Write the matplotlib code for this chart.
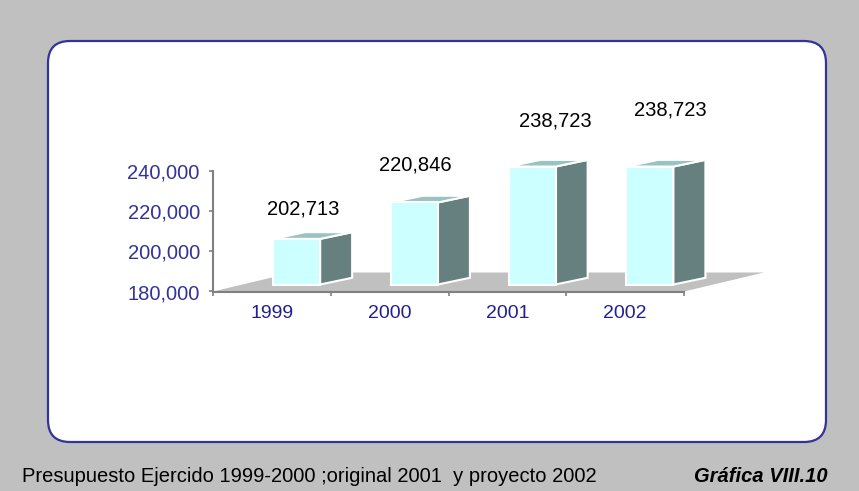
import matplotlib
matplotlib.use("Agg")
import matplotlib.pyplot as plt
from matplotlib.patches import FancyBboxPatch, Polygon
from matplotlib import font_manager

# data
years = ["1999", "2000", "2001", "2002"]
budget = [202713, 220846, 238723, 238723]
y_ticks = [180000, 200000, 220000, 240000]
footer = "Presupuesto Ejercido 1999-2000 ;original 2001  y proyecto 2002"
chart_id = "Gráfica VIII.10"

# figure geometry (pixels)
W, H, DPI = 859, 491, 100
L, R, T, B = 213, 684, 171, 291.5

BG = "#C0C0C0"
NAVY = "#333399"
AXIS = "#808080"
FRONT, SIDE, TOP = "#CCFFFF", "#668080", "#99C2C2"

names = {f.name for f in font_manager.fontManager.ttflist}
narrow = "Liberation Sans Narrow" if "Liberation Sans Narrow" in names else "Liberation Sans"
plt.rcParams["font.family"] = ["Liberation Sans", "DejaVu Sans"]

fig = plt.figure(figsize=(W / DPI, H / DPI), dpi=DPI, facecolor=BG)

# background layer in pixel coordinates
bg = fig.add_axes([0, 0, 1, 1])
bg.set_xlim(0, W)
bg.set_ylim(H, 0)
bg.axis("off")
bg.add_patch(FancyBboxPatch((48, 41), 778, 401,
                            boxstyle="round,pad=0,rounding_size=22",
                            fc="white", ec=NAVY, lw=1.6))
bg.text(22, 476, footer, fontsize=14.5, family=[narrow, "DejaVu Sans"],
        ha="left", va="center", color="black")
bg.text(828, 476, chart_id, fontsize=14.5, family=[narrow, "DejaVu Sans"],
        weight="bold", style="italic", ha="right", va="center", color="black")

# chart area
ax = fig.add_axes([L / W, 1 - B / H, (R - L) / W, (B - T) / H])
ax.set_xlim(0, len(years))
ax.set_ylim(y_ticks[0], y_ticks[-1])
ax.patch.set_visible(False)

px = len(years) / (R - L)                 # data units per pixel, x
py = (y_ticks[-1] - y_ticks[0]) / (B - T)  # data units per pixel, y
y0 = y_ticks[0]

# floor
fdx, fdy = 80 * px, 19 * py
ax.add_patch(Polygon([(0, y0), (len(years), y0), (len(years) + fdx, y0 + fdy),
                      (fdx, y0 + fdy)], closed=True, fc=BG, ec="none",
                     zorder=1, clip_on=False))

# 3d bars
lift = 7 * py
bdx, bdy = 32 * px, 6.7 * py
label_dx = [7, 1, 23, 20]
label_dy = [30, 37, 46, 57]
for i, (v, yr) in enumerate(zip(budget, years)):
    x0, x1 = i + 0.51, i + 0.91
    base, top = y0 + lift, v + lift
    front = [(x0, base), (x1, base), (x1, top), (x0, top)]
    side = [(x1, base), (x1 + bdx, base + bdy), (x1 + bdx, top + bdy), (x1, top)]
    lid = [(x0, top), (x1, top), (x1 + bdx, top + bdy), (x0 + bdx, top + bdy)]
    for pts, c in ((side, SIDE), (lid, TOP), (front, FRONT)):
        ax.add_patch(Polygon(pts, closed=True, fc=c, ec="white", lw=1.5,
                             joinstyle="miter", zorder=3, clip_on=False))
    ax.annotate(f"{v:,}", xy=((x0 + x1) / 2, top),
                xytext=(label_dx[i], label_dy[i]), textcoords="offset pixels",
                ha="center", va="center", fontsize=14.5, color="black",
                annotation_clip=False)

# axes styling
for s in ("top", "right"):
    ax.spines[s].set_visible(False)
for s in ("left", "bottom"):
    ax.spines[s].set_color(AXIS)
    ax.spines[s].set_linewidth(1.5)
    ax.spines[s].set_zorder(4)

ax.set_yticks(y_ticks)
ax.set_yticklabels([f"{t:,}" for t in y_ticks])
ax.tick_params(axis="y", direction="out", length=3, width=1.2, color=AXIS,
               labelcolor=NAVY, labelsize=14.5, pad=6.5)

ax.set_xticks(range(len(years) + 1))
ax.set_xticklabels([])
ax.set_xticks([i + 0.5 for i in range(len(years))], minor=True)
ax.set_xticklabels(years, minor=True)
ax.tick_params(axis="x", which="major", direction="out", length=3, width=1.2, color=AXIS)
ax.tick_params(axis="x", which="minor", length=0, labelcolor="#202090",
               labelsize=14, pad=10)

fig.savefig("out.png", dpi=DPI, facecolor=BG)
